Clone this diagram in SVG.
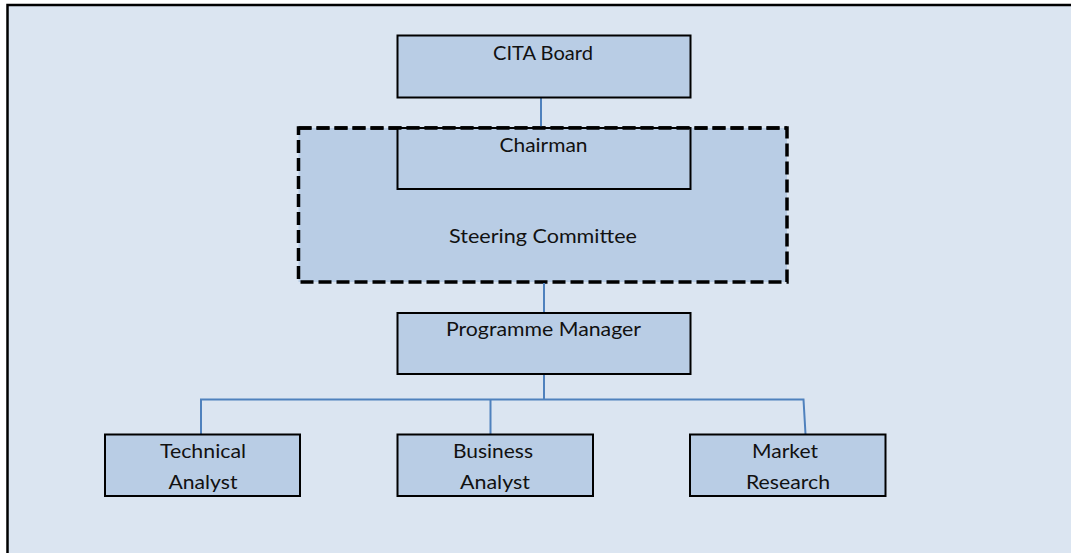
<svg xmlns="http://www.w3.org/2000/svg" width="1071" height="553" viewBox="0 0 1071 553">
  <style>
    .frame { fill: #dbe5f1; stroke: #000; stroke-width: 2.5; }
    .box { fill: #b9cde5; stroke: #000; stroke-width: 2; }
    .group { fill: #b9cde5; stroke: #000; stroke-width: 3.5; stroke-dasharray: 13 5; }
    .link { fill: none; stroke: #4f81bd; stroke-width: 2; }
    text { font-family: Lato, "Liberation Sans", sans-serif; font-size: 20px; fill: #111; text-anchor: middle; }
  </style>

  <!-- page background frame -->
  <rect class="frame" x="7.5" y="5" width="1080" height="560"/>

  <!-- steering committee (dashed grouping) -->
  <g id="steering-committee">
    <rect class="group" x="298.5" y="128" width="488.5" height="154"/>
    <text x="543" y="243" textLength="188" lengthAdjust="spacingAndGlyphs">Steering Committee</text>
  </g>

  <g id="connectors">
    <line class="link" x1="541" y1="97" x2="541" y2="128"/>
    <line class="link" x1="544" y1="283" x2="544" y2="313"/>
    <line class="link" x1="544" y1="374" x2="544" y2="400"/>
    <polyline class="link" points="201,434 201,399.5 803.5,399.5 805.5,434"/>
    <line class="link" x1="490.5" y1="399" x2="490.5" y2="434"/>
  </g>

  <g id="cita-board">
    <rect class="box" x="397.5" y="35.5" width="293" height="62"/>
    <text x="543" y="60" textLength="100" lengthAdjust="spacingAndGlyphs">CITA Board</text>
  </g>

  <g id="chairman">
    <rect class="box" x="397.5" y="128" width="293" height="61"/>
    <line x1="298.5" y1="128" x2="787" y2="128" class="group" style="fill:none"/>
    <text x="543.5" y="152" textLength="88" lengthAdjust="spacingAndGlyphs">Chairman</text>
  </g>

  <g id="programme-manager">
    <rect class="box" x="397.5" y="313" width="293" height="61"/>
    <text x="543.5" y="336" textLength="195" lengthAdjust="spacingAndGlyphs">Programme Manager</text>
  </g>

  <g id="technical-analyst">
    <rect class="box" x="105" y="434.5" width="195" height="61.5"/>
    <text x="203" y="458" textLength="86" lengthAdjust="spacingAndGlyphs">Technical</text>
    <text x="203" y="489" textLength="69" lengthAdjust="spacingAndGlyphs">Analyst</text>
  </g>

  <g id="business-analyst">
    <rect class="box" x="397.5" y="434.5" width="195.5" height="61.5"/>
    <text x="493" y="458" textLength="80" lengthAdjust="spacingAndGlyphs">Business</text>
    <text x="495" y="489" textLength="70" lengthAdjust="spacingAndGlyphs">Analyst</text>
  </g>

  <g id="market-research">
    <rect class="box" x="690" y="434.5" width="195.5" height="61.5"/>
    <text x="785" y="458" textLength="66" lengthAdjust="spacingAndGlyphs">Market</text>
    <text x="788" y="489" textLength="84" lengthAdjust="spacingAndGlyphs">Research</text>
  </g>
</svg>
